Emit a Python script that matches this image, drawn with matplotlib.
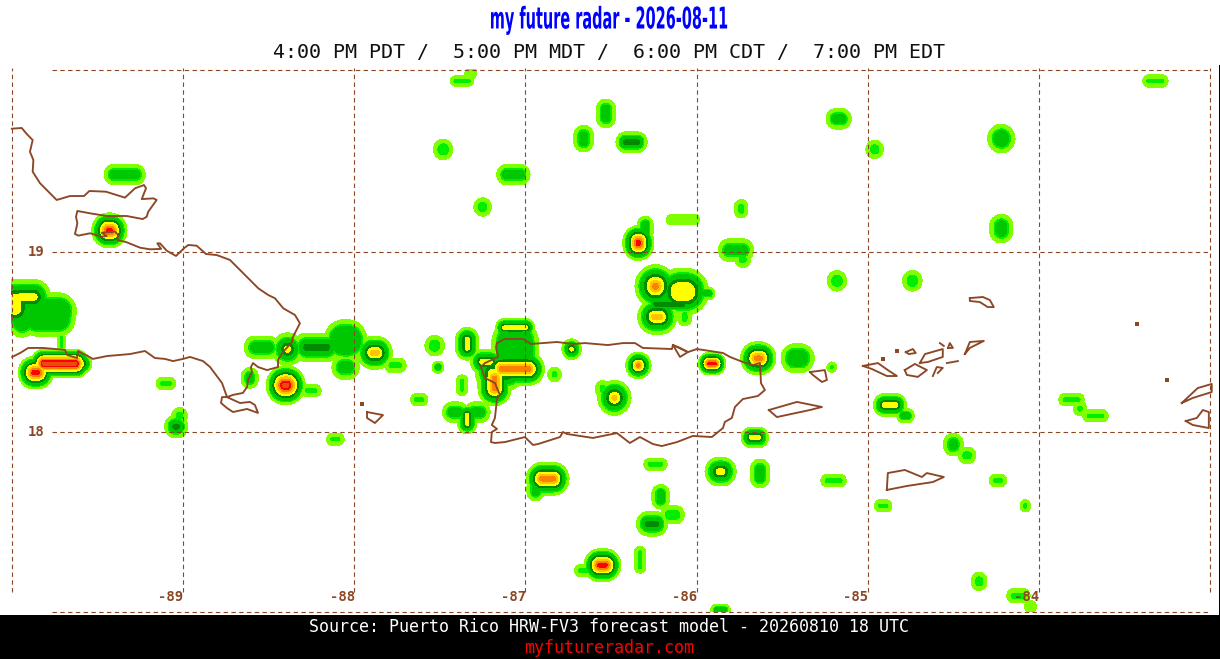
import numpy as np
import matplotlib
matplotlib.use("Agg")
import matplotlib.pyplot as plt
import matplotlib.patheffects as pe
from matplotlib.patches import Rectangle
from matplotlib.transforms import Affine2D

# ---- storm cells: centre, half-size in degrees, number of colour bands reached
storm_lon = [-87.37,-87.32,-83.32,-86.53,-86.66,-86.38,-85.17,-84.96,-84.22,-87.48,
             -87.07,-89.34,-87.25,-86.08,-85.74,-84.22,-89.43,-86.34,-86.30,-85.77,
             -85.73,-86.24,-86.08,-86.23,-85.94,-86.07,-85.18,-84.74,-89.98,-89.91,
             -89.79,-89.76,-89.94,-89.71,-89.72,-89.86,-89.60,-89.10,-89.04,-89.02,
             -88.54,-88.39,-88.22,-88.05,-88.05,-87.88,-87.76,-88.61,-88.40,-88.25,
             -88.11,-87.53,-87.51,-87.34,-87.06,-87.06,-87.06,-87.18,-87.23,-87.37,
             -87.62,-87.34,-87.41,-87.28,-86.83,-86.73,-86.48,-86.55,-86.34,-85.91,
             -85.64,-85.41,-85.21,-85.66,-86.24,-85.86,-85.63,-85.20,-86.87,-86.94,
             -86.26,-86.21,-86.14,-86.33,-86.55,-86.65,-85.86,-84.87,-84.78,-84.50,
             -84.42,-84.24,-84.91,-84.08,-83.81,-83.76,-83.67,-84.35,-84.12,-84.05,
             -87.15,-86.16]
storm_lat = [19.95,19.99,19.95,19.77,19.63,19.61,19.74,19.57,19.63,19.57,
             19.43,19.43,19.25,19.18,19.24,19.13,19.12,19.05,19.13,19.01,
             18.96,18.81,18.78,18.64,18.77,18.64,18.84,18.84,18.71,18.75,
             18.63,18.67,18.63,18.50,18.38,18.33,18.38,18.27,18.03,18.09,
             18.47,18.46,18.47,18.51,18.36,18.44,18.37,18.30,18.26,18.23,
             17.96,18.48,18.36,18.49,18.46,18.58,18.35,18.27,18.39,18.26,
             18.18,18.07,18.11,18.11,18.32,18.46,18.19,18.24,18.37,18.38,
             18.41,18.41,18.36,17.97,17.82,17.78,17.77,17.73,17.74,17.68,
             17.49,17.64,17.54,17.29,17.26,17.23,17.01,18.15,18.09,17.93,
             17.87,17.73,17.59,17.59,18.18,18.13,18.09,17.17,17.09,17.03,
             18.33,18.71]
storm_half_lon = [.068,.034,.074,.057,.057,.091,.074,.051,.080,.057,
                  .097,.120,.051,.097,.040,.068,.103,.091,.046,.103,
                  .046,.120,.150,.114,.046,.040,.057,.057,.114,.137,
                  .160,.137,.080,.023,.171,.103,.068,.057,.068,.046,
                  .103,.091,.137,.125,.080,.103,.063,.051,.114,.057,
                  .051,.057,.034,.068,.137,.114,.171,.097,.091,.034,
                  .051,.057,.074,.074,.040,.057,.097,.040,.074,.080,
                  .103,.097,.029,.080,.068,.091,.057,.074,.125,.051,
                  .091,.051,.068,.034,.108,.063,.057,.097,.051,.057,
                  .051,.051,.051,.029,.074,.040,.074,.046,.068,.034,
                  .143,.125]
storm_half_lat = [.029,.034,.034,.080,.074,.057,.057,.051,.080,.057,
                  .057,.057,.051,.029,.051,.080,.097,.097,.068,.063,
                  .046,.120,.130,.097,.034,.051,.057,.057,.137,.097,
                  .097,.103,.103,.046,.080,.091,.057,.034,.063,.046,
                  .063,.091,.080,.114,.068,.091,.040,.057,.108,.034,
                  .034,.057,.034,.091,.171,.051,.091,.125,.068,.057,
                  .034,.080,.057,.057,.040,.057,.097,.046,.074,.063,
                  .091,.080,.029,.057,.034,.080,.080,.034,.091,.063,
                  .068,.068,.051,.074,.091,.034,.034,.063,.040,.063,
                  .046,.034,.034,.034,.034,.040,.034,.051,.040,.034,
                  .097,.046]
storm_bands = [2,1,2,3,3,4,3,2,3,2,
               3,3,2,1,2,3,8,8,3,3,
               2,7,5,6,3,2,2,2,5,5,
               3,3,3,2,9,8,5,2,4,2,
               3,5,4,3,3,6,2,3,9,2,
               2,2,3,5,3,5,7,7,5,2,
               2,5,3,3,2,5,6,2,7,8,
               7,3,2,5,2,5,3,2,7,3,
               4,3,2,2,8,2,3,5,3,3,
               2,2,2,2,2,2,2,2,2,1,
               5,4]

band_colors = ['#7fff00','#00ee00','#00c800','#008b00','#ffff00','#ffc400','#ff7f00','#ff0000','#ee4a10']
band_edges = [0, 1, 1.4, 2.4, 3.1, 3.8, 4.5, 5.2, 5.9, 6.6]

# ---- coastlines (lon, lat)
mainland_w = [-90.00,-89.942,-89.913,-89.878,-89.894,-89.874,-89.878,-89.835,-89.738,-89.660,-89.578,-89.547,-89.450,-89.339,-89.280,-89.228,-89.216,-89.241,-89.173,-89.154,-89.203,-89.212,-89.235,-89.329,-89.446,-89.543,-89.617,-89.625,-89.617,-89.631,-89.611,-89.543,-89.475,-89.446,-89.475,-89.397,-89.378,-89.384,-89.329,-89.251,-89.193,-89.128,-89.150,-89.134,-89.095,-89.041,-88.994,-88.969,-88.920,-88.866,-88.803,-88.726,-88.667,-88.560,-88.502,-88.463,-88.414,-88.346,-88.317,-88.358,-88.363,-88.416,-88.445,-88.445,-88.509,-88.562,-88.591,-88.603,-88.597,-88.620,-88.626,-88.650,-88.708,-88.743,-88.772,-88.778,-88.743,-88.708,-88.626,-88.562,-88.580,-88.609,-88.667,-88.743,-88.772,-88.842,-88.883,-88.959,-89.000,-89.058,-89.105,-89.164,-89.222,-89.310,-89.444,-89.526,-89.613,-89.619,-89.677,-89.689,-89.817,-89.904,-89.951,-89.998]
mainland_n = [19.685,19.689,19.656,19.622,19.557,19.511,19.446,19.382,19.289,19.311,19.311,19.339,19.335,19.302,19.354,19.372,19.354,19.294,19.298,19.289,19.224,19.196,19.183,19.200,19.200,19.215,19.228,19.196,19.159,19.100,19.091,19.104,19.085,19.089,19.107,19.113,19.094,19.067,19.054,19.024,19.015,19.017,19.048,19.048,19.007,18.978,19.021,19.039,19.035,18.989,18.983,18.956,18.900,18.798,18.761,18.743,18.687,18.650,18.604,18.528,18.500,18.444,18.400,18.361,18.344,18.361,18.383,18.361,18.333,18.289,18.250,18.217,18.206,18.194,18.194,18.161,18.133,18.111,18.128,18.106,18.150,18.167,18.161,18.194,18.272,18.361,18.394,18.417,18.406,18.394,18.406,18.411,18.450,18.433,18.422,18.406,18.450,18.411,18.428,18.456,18.467,18.467,18.439,18.417]
main_isle_w = [-87.166,-87.120,-87.014,-86.968,-86.816,-86.722,-86.652,-86.518,-86.430,-86.360,-86.314,-86.144,-86.138,-86.097,-86.051,-85.998,-85.846,-85.805,-85.730,-85.671,-85.630,-85.624,-85.601,-85.642,-85.730,-85.776,-85.794,-85.835,-85.846,-85.911,-86.022,-86.115,-86.203,-86.255,-86.331,-86.390,-86.465,-86.606,-86.757,-86.781,-86.798,-86.927,-86.956,-87.003,-87.120,-87.178,-87.201,-87.196,-87.166,-87.196,-87.178,-87.166,-87.149,-87.178,-87.236,-87.260,-87.236,-87.160,-87.172,-87.166]
main_isle_n = [18.494,18.517,18.517,18.489,18.500,18.489,18.494,18.483,18.494,18.494,18.467,18.461,18.483,18.467,18.444,18.461,18.439,18.417,18.389,18.372,18.383,18.272,18.233,18.200,18.183,18.139,18.078,18.056,18.022,17.972,17.978,17.944,17.922,17.933,17.972,17.939,17.994,17.967,17.989,18.000,17.972,17.933,17.928,17.972,17.944,17.939,17.944,18.000,18.017,18.039,18.078,18.183,18.206,18.272,18.300,18.361,18.383,18.417,18.472,18.494]
islets = [
    ([-87.925,-87.832,-87.879,-87.925,-87.925],[18.111,18.094,18.050,18.078,18.111]),
    ([-85.578,-85.414,-85.268,-85.339,-85.531,-85.578],[18.122,18.167,18.139,18.122,18.083,18.122]),
    ([-86.138,-86.051,-86.097,-86.138],[18.483,18.444,18.417,18.483]),
    ([-85.338,-85.251,-85.239,-85.268,-85.321,-85.338],[18.333,18.344,18.289,18.278,18.317,18.333]),
    ([-84.404,-84.328,-84.287,-84.264,-84.299,-84.346,-84.404,-84.404],[18.744,18.750,18.733,18.694,18.694,18.722,18.728,18.744]),
    ([-85.029,-84.941,-84.883,-84.830,-84.889,-84.976,-85.029],[18.367,18.383,18.344,18.311,18.311,18.350,18.367]),
    ([-84.778,-84.737,-84.720,-84.760,-84.778],[18.444,18.461,18.439,18.433,18.444]),
    ([-84.696,-84.666,-84.562,-84.562,-84.649,-84.696],[18.383,18.433,18.461,18.417,18.389,18.383]),
    ([-84.784,-84.725,-84.655,-84.708,-84.772,-84.784],[18.344,18.378,18.344,18.306,18.317,18.344]),
    ([-84.620,-84.597,-84.562,-84.591],[18.311,18.361,18.356,18.328]),
    ([-84.579,-84.556],[18.494,18.478]),
    ([-84.532,-84.521,-84.503,-84.532],[18.467,18.494,18.467,18.467]),
    ([-84.538,-84.474],[18.383,18.394]),
    ([-84.433,-84.404,-84.322,-84.404,-84.433],[18.433,18.500,18.506,18.467,18.433]),
    ([-84.889,-84.883,-84.784,-84.684,-84.655,-84.556,-84.620,-84.772,-84.889],[17.678,17.772,17.789,17.750,17.772,17.750,17.722,17.700,17.678]),
    ([-83.166,-83.073,-82.991,-82.991,-83.102,-83.166],[18.161,18.244,18.267,18.222,18.189,18.161]),
    ([-83.143,-83.078,-83.043,-83.008,-83.008,-83.102,-83.143],[18.061,18.078,18.122,18.111,18.022,18.039,18.061]),
]
dot_lon = [-87.955,-84.912,-84.830,-83.429,-83.254]
dot_lat = [18.156,18.406,18.450,18.600,18.289]

grid_lons = [-90,-89,-88,-87,-86,-85,-84,-83]
grid_lats = [17,18,19,20.01]
lon_labels = [-89,-88,-87,-86,-85,-84]
lat_labels = [19,18]

title = 'my future radar - 2026-08-11'
subtitle = '4:00 PM PDT /  5:00 PM MDT /  6:00 PM CDT /  7:00 PM EDT'
source = 'Source: Puerto Rico HRW-FV3 forecast model - 20260810 18 UTC'
site = 'myfutureradar.com'

BROWN = '#8b4726'
W, H = 1220, 659


class Squeeze(pe.AbstractPathEffect):
    """Draw a text narrower about a vertical axis, for the condensed headline."""
    def __init__(self, factor, x_px):
        super().__init__()
        self.factor, self.x_px = factor, x_px

    def draw_path(self, renderer, gc, tpath, affine, rgbFace=None):
        squeeze = Affine2D().translate(-self.x_px, 0).scale(self.factor, 1).translate(self.x_px, 0)
        renderer.draw_path(gc, tpath, affine + squeeze, rgbFace)


fig = plt.figure(figsize=(W/100, H/100), dpi=100, facecolor='white')
ax = fig.add_axes([0, 0, 1, 1])
ax.set_xlim(-89 - 183/171.2, -89 + 1037/171.2)
ax.set_ylim(19 - 407/180, 19 + 252/180)
ax.axis('off')

# reflectivity field assembled from the storm cells
glon = np.arange(-90, -82.94, .003)
glat = np.arange(17.0, 20.015, .003)
field = np.full((glat.size, glon.size), -1.0)
FALL = .026
for lo, la, hx, hy, n in zip(storm_lon, storm_lat, storm_half_lon, storm_half_lat, storm_bands):
    R = min(hx, hy)
    top = band_edges[n]
    w = min(FALL, R/top)
    a, b = hx - R, hy - R
    i0, i1 = np.searchsorted(glon, [lo-hx-.01, lo+hx+.01])
    j0, j1 = np.searchsorted(glat, [la-hy-.01, la+hy+.01])
    if i1 <= i0 or j1 <= j0:
        continue
    X, Y = np.meshgrid(glon[i0:i1]-lo, glat[j0:j1]-la)
    dist = np.hypot(np.maximum(np.abs(X)-a, 0), np.maximum(np.abs(Y)-b, 0))
    v = np.minimum(top - .01, (R - dist)/w)
    field[j0:j1, i0:i1] = np.maximum(field[j0:j1, i0:i1], v)

ax.contourf(glon, glat, field, levels=band_edges,
            colors=band_colors, antialiased=False, zorder=1)

# dashed graticule
dash = (0, (4, 3))
ax.vlines(grid_lons, 19 - (592-252)/180, 19 + (252-68)/180, color=BROWN, lw=.8, linestyles=dash, zorder=3)
ax.hlines(grid_lats, -89 - (183-52)/171.2, -83, color=BROWN, lw=.8, linestyles=dash, zorder=3)

# coastlines
ax.plot(mainland_w, mainland_n, color=BROWN, lw=1.35, zorder=4, solid_joinstyle='round')
ax.plot(main_isle_w, main_isle_n, color=BROWN, lw=1.35, zorder=4, solid_joinstyle='round')
for xs, ys in islets:
    ax.plot(xs, ys, color=BROWN, lw=1.35, zorder=4)
ax.plot(dot_lon, dot_lat, ls='none', marker='s', ms=2.2, color=BROWN, mew=0, zorder=4)

# axis labels
for lo in lon_labels:
    ax.annotate(f'-{abs(lo)}', (lo, 17.083), xytext=(-8.6, 0), textcoords='offset points',
                ha='center', va='center', color=BROWN, fontsize=10, weight='bold',
                family='DejaVu Sans Mono', zorder=5)
for la in lat_labels:
    ax.text(-89.86, la, f'{la}', ha='center', va='center', color=BROWN, fontsize=10,
            weight='bold', family='DejaVu Sans Mono', zorder=5)

# titles
t = fig.text(609/W, 1-20/H, title, ha='center', va='center', color='#0000ff', fontsize=21.5,
             weight='bold', family='DejaVu Sans')
t.set_path_effects([Squeeze(.485, 609)])
fig.text(609/W, 1-52/H, subtitle, ha='center', va='center', color='#111111', fontsize=14.4,
         family='DejaVu Sans Mono')

# right edge rule
fig.add_artist(Rectangle((1218.5/W, 44/H), 1.5/W, 550/H, transform=fig.transFigure,
                         facecolor='black', edgecolor='none'))

# footer
foot = fig.add_axes([0, 0, 1, 44/H])
foot.set_facecolor('black')
foot.set_xticks([]); foot.set_yticks([])
for s in foot.spines.values():
    s.set_visible(False)
fig.text(609/W, 1-627/H, source, ha='center', va='center', color='white', fontsize=12,
         family='DejaVu Sans Mono')
fig.text(609/W, 1-648/H, site, ha='center', va='center', color='#ff0000', fontsize=12,
         family='DejaVu Sans Mono')

fig.savefig('out.png', dpi=100)
